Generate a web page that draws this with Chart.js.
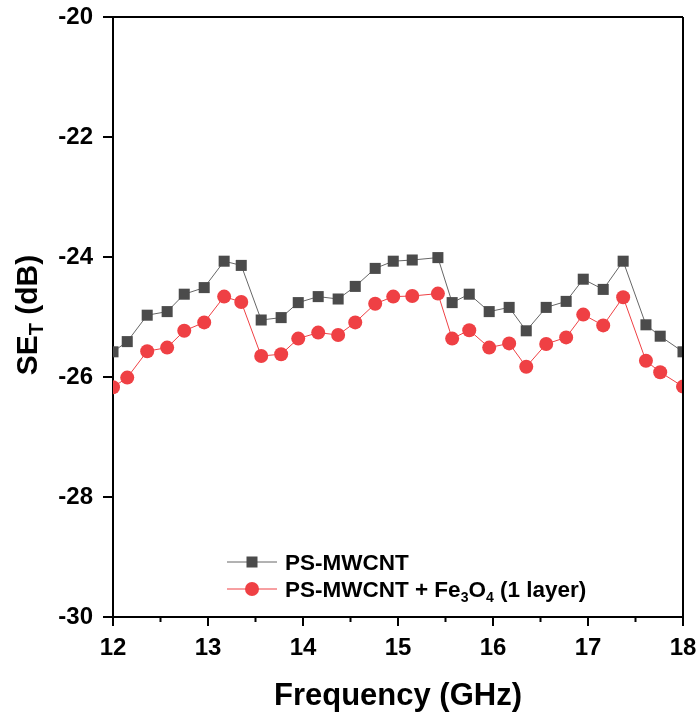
<!DOCTYPE html>
<html>
<head>
<meta charset="utf-8">
<script src="https://cdn.jsdelivr.net/npm/chart.js@4/dist/chart.umd.min.js"></script>
<style>
  html, body { margin: 0; padding: 0; background: #fff; }
  #wrap { width: 700px; height: 722px; }
</style>
</head>
<body>
<div id="wrap"><canvas id="myChart" width="700" height="722"></canvas></div>
<script>
// frequency points (GHz)
const freq = [12.0, 12.15, 12.36, 12.57, 12.75, 12.96, 13.17, 13.35, 13.56, 13.77, 13.95,
  14.16, 14.37, 14.55, 14.76, 14.95, 15.15, 15.42, 15.57, 15.75, 15.96, 16.17, 16.35,
  16.56, 16.77, 16.95, 17.16, 17.37, 17.61, 17.76, 18.0];

// SE_T (dB)
const sePsMwcnt = [-25.58, -25.41, -24.97, -24.91, -24.62, -24.51, -24.07, -24.14, -25.05, -25.01, -24.76,
  -24.66, -24.70, -24.49, -24.19, -24.07, -24.05, -24.01, -24.76, -24.62, -24.91, -24.84, -25.23,
  -24.84, -24.74, -24.37, -24.54, -24.07, -25.13, -25.32, -25.58];
const sePsMwcntFe = [-26.17, -26.01, -25.57, -25.51, -25.23, -25.09, -24.66, -24.75, -25.65, -25.62, -25.36,
  -25.26, -25.30, -25.09, -24.78, -24.66, -24.65, -24.61, -25.36, -25.22, -25.51, -25.44, -25.83,
  -25.45, -25.34, -24.96, -25.14, -24.67, -25.73, -25.92, -26.16];

const xTicks = [12, 13, 14, 15, 16, 17, 18];
const yTicks = [-30, -28, -26, -24, -22, -20];

const FONT = '"Liberation Sans", Arial, sans-serif';
const GRAY = '#4b4b4b';
const RED = '#ef4044';

const toPts = (ys) => freq.map((f, i) => ({ x: f, y: ys[i] }));

// frame, minor ticks, axis titles and legend
const extras = {
  id: 'extras',
  afterDraw(chart) {
    const ctx = chart.ctx;
    const a = chart.chartArea;
    const xs = chart.scales.x;
    ctx.save();
    ctx.strokeStyle = '#000';
    ctx.lineWidth = 2;
    ctx.beginPath();
    ctx.moveTo(a.left, a.top); ctx.lineTo(a.right, a.top);
    ctx.moveTo(a.right, a.top); ctx.lineTo(a.right, a.bottom);
    ctx.stroke();

    // minor ticks on x
    ctx.beginPath();
    for (let v = 12.5; v < 18; v += 1) {
      const px = xs.getPixelForValue(v);
      ctx.moveTo(px, a.bottom); ctx.lineTo(px, a.bottom + 5);
    }
    ctx.stroke();

    // x title
    ctx.fillStyle = '#000';
    ctx.font = 'bold 31px ' + FONT;
    ctx.textAlign = 'center';
    ctx.textBaseline = 'alphabetic';
    ctx.fillText('Frequency (GHz)', (a.left + a.right) / 2, 705);

    // y title with subscript T
    ctx.save();
    ctx.translate(37, 315);
    ctx.rotate(-Math.PI / 2);
    ctx.textAlign = 'left';
    const big = 'bold 30px ' + FONT, small = 'bold 20px ' + FONT;
    ctx.font = big; const w1 = ctx.measureText('SE').width;
    ctx.font = small; const w2 = ctx.measureText('T').width;
    ctx.font = big; const w3 = ctx.measureText(' (dB)').width;
    let x0 = -(w1 + w2 + w3) / 2;
    ctx.font = big; ctx.fillText('SE', x0, 0); x0 += w1;
    ctx.font = small; ctx.fillText('T', x0, 6); x0 += w2;
    ctx.font = big; ctx.fillText(' (dB)', x0, 0);
    ctx.restore();

    // legend
    const rows = [
      { y: 562, color: GRAY, line: '#666', shape: 'rect', parts: [['PS-MWCNT', 0]] },
      { y: 589, color: RED, line: RED, shape: 'circle',
        parts: [['PS-MWCNT + Fe', 0], ['3', 1], ['O', 0], ['4', 1], [' (1 layer)', 0]] }
    ];
    rows.forEach(r => {
      ctx.strokeStyle = r.line;
      ctx.lineWidth = 1;
      ctx.beginPath(); ctx.moveTo(227, r.y); ctx.lineTo(277, r.y); ctx.stroke();
      ctx.fillStyle = r.color;
      if (r.shape === 'rect') {
        ctx.fillRect(252 - 5.5, r.y - 5.5, 11, 11);
      } else {
        ctx.beginPath(); ctx.arc(252, r.y, 7, 0, Math.PI * 2); ctx.fill();
      }
      ctx.fillStyle = '#000';
      ctx.textAlign = 'left';
      ctx.textBaseline = 'alphabetic';
      let tx = 285;
      r.parts.forEach(([t, sub]) => {
        ctx.font = sub ? 'bold 14px ' + FONT : 'bold 22.5px ' + FONT;
        ctx.fillText(t, tx, r.y + 8 + (sub ? 5 : 0));
        tx += ctx.measureText(t).width;
      });
    });
    ctx.restore();
  }
};

const ctx = document.getElementById('myChart').getContext('2d');
new Chart(ctx, {
  type: 'scatter',
  data: {
    datasets: [
      {
        label: 'PS-MWCNT',
        data: toPts(sePsMwcnt),
        showLine: true,
        borderColor: '#666',
        borderWidth: 1,
        backgroundColor: GRAY,
        pointStyle: 'rect',
        pointRadius: 7.8,
        pointBorderWidth: 0,
        pointBackgroundColor: GRAY,
        clip: 0
      },
      {
        label: 'PS-MWCNT + Fe3O4 (1 layer)',
        data: toPts(sePsMwcntFe),
        showLine: true,
        borderColor: RED,
        borderWidth: 1,
        backgroundColor: RED,
        pointStyle: 'circle',
        pointRadius: 7,
        pointBorderWidth: 0,
        pointBackgroundColor: RED,
        clip: 0
      }
    ]
  },
  options: {
    responsive: false,
    animation: false,
    layout: { padding: { top: 17, right: 17, left: 0, bottom: 0 } },
    plugins: {
      legend: { display: false },
      tooltip: { enabled: false },
      title: { display: false }
    },
    scales: {
      x: {
        type: 'linear',
        min: 12, max: 18,
        afterBuildTicks: (s) => { s.ticks = xTicks.map(v => ({ value: v })); },
        afterFit: (s) => { s.height = 105; s.paddingLeft = 0; s.paddingRight = 0; },
        border: { display: true, color: '#000', width: 2 },
        grid: { display: true, drawOnChartArea: false, drawTicks: true, tickLength: 9, color: '#000', lineWidth: 2 },
        ticks: { color: '#000', padding: 8, font: { family: FONT, size: 24, weight: 'bold' } }
      },
      y: {
        type: 'linear',
        min: -30, max: -20,
        afterBuildTicks: (s) => { s.ticks = yTicks.map(v => ({ value: v })); },
        afterFit: (s) => { s.width = 113; s.paddingTop = 0; s.paddingBottom = 0; },
        border: { display: true, color: '#000', width: 2 },
        grid: { display: true, drawOnChartArea: false, drawTicks: true, tickLength: 10, color: '#000', lineWidth: 2 },
        ticks: { color: '#000', padding: 10, font: { family: FONT, size: 24, weight: 'bold' } }
      }
    }
  },
  plugins: [extras]
});
</script>
</body>
</html>
